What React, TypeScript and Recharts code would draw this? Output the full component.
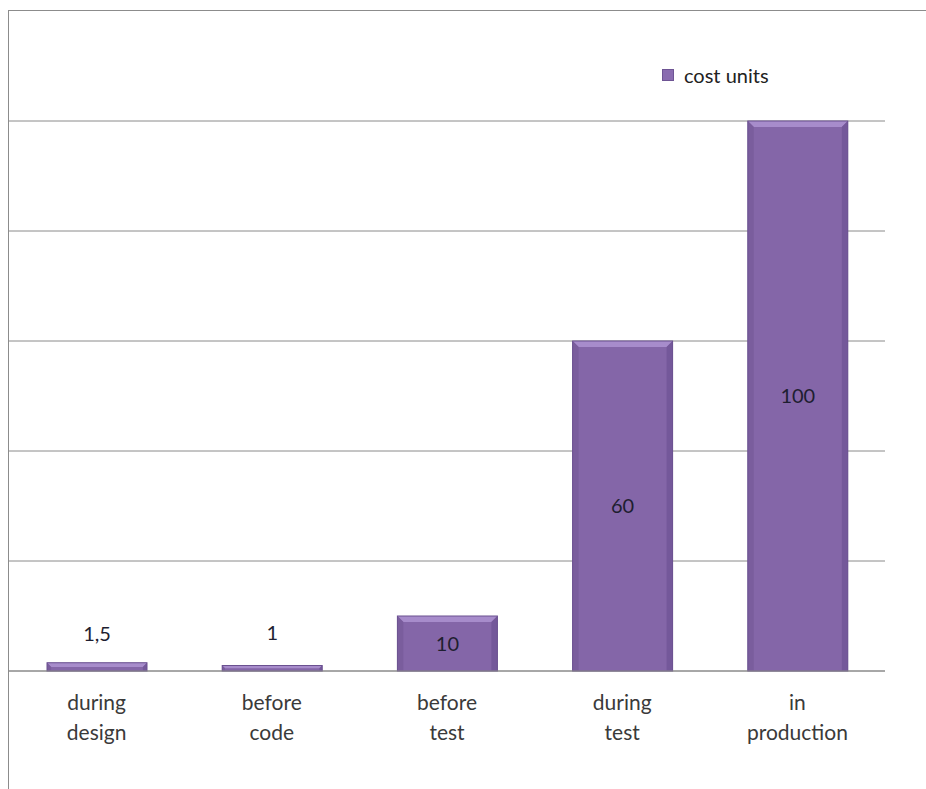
import { BarChart, Bar, XAxis, YAxis, CartesianGrid, LabelList } from 'recharts';

const categories = ['during design', 'before code', 'before test', 'during test', 'in production'];
const costUnits = [1.5, 1, 10, 60, 100];
const valueLabels = ['1,5', '1', '10', '60', '100'];
const yTicks = [0, 20, 40, 60, 80, 100];
const seriesName = 'cost units';

const data = categories.map((name, i) => ({ name, cost: costUnits[i], label: valueLabels[i] }));

const FONT = 'Lato, "Open Sans", sans-serif';

// bar with a bevelled top like the office chart style
const BevelBar = (props: any) => {
  const { x, y, width, height } = props;
  if (!height || height <= 0) return null;
  const b = Math.min(6, height / 2);
  return (
    <g>
      <rect x={x} y={y} width={width} height={height} fill="#8466a8" />
      <polygon
        points={`${x},${y} ${x + width},${y} ${x + width - b},${y + b} ${x + b},${y + b}`}
        fill="#a78ccb"
      />
      <polygon
        points={`${x},${y} ${x + b},${y + b} ${x + b},${y + height} ${x},${y + height}`}
        fill="#7a5d9d"
      />
      <polygon
        points={`${x + width},${y} ${x + width - b},${y + b} ${x + width - b},${y + height} ${x + width},${y + height}`}
        fill="#74589a"
      />
      <rect x={x} y={y} width={width} height={height} fill="none" stroke="#6a5090" strokeWidth={1} />
    </g>
  );
};

const CategoryTick = (props: any) => {
  const { x, y, payload } = props;
  const words = String(payload.value).split(' ');
  return (
    <text x={x} y={y} textAnchor="middle" fill="#3a3a3a" fontFamily={FONT} fontSize={21}>
      {words.map((w, i) => (
        <tspan key={i} x={x} dy={i === 0 ? 31 : 30}>
          {w}
        </tspan>
      ))}
    </text>
  );
};

const ValueLabel = (props: any) => {
  const { x, y, width, height, value } = props;
  const cx = x + width / 2;
  // small bars get their label above, the rest centred inside
  const cy = height > 20 ? y + height / 2 + 7 : y - 22 - (height < 6 ? 4 : 0);
  return (
    <text x={cx} y={cy} textAnchor="middle" fill="#1e1e30" fontFamily={FONT} fontSize={20}>
      {value}
    </text>
  );
};

export default function App() {
  return (
    <div style={{ position: 'absolute', left: 0, top: 0, width: 926, height: 789, background: '#fff', overflow: 'hidden' }}>
      <div
        style={{
          position: 'absolute',
          left: 8,
          top: 10,
          width: 930,
          height: 800,
          borderTop: '1px solid #8c8c8c',
          borderLeft: '1px solid #8c8c8c',
        }}
      />
      <div
        style={{
          position: 'absolute',
          left: 662,
          top: 63,
          display: 'flex',
          alignItems: 'center',
          fontFamily: FONT,
          fontSize: 20,
          color: '#222',
        }}
      >
        <span
          style={{
            display: 'inline-block',
            width: 10,
            height: 10,
            background: '#8a6cb0',
            border: '1px solid #6e5494',
            marginRight: 10,
          }}
        />
        {seriesName}
      </div>
      <div style={{ position: 'absolute', left: 0, top: 0 }}>
        <BarChart width={926} height={789} data={data} margin={{ top: 121, right: 41, bottom: 0, left: 9 }}>
          <CartesianGrid vertical={false} stroke="#8a8a8a" strokeWidth={1} />
          <YAxis hide domain={[0, 100]} ticks={yTicks} />
          <XAxis
            dataKey="name"
            axisLine={{ stroke: '#8a8a8a' }}
            tickLine={false}
            interval={0}
            tick={<CategoryTick />}
            height={118}
          />
          <Bar dataKey="cost" name={seriesName} barSize={100} shape={<BevelBar />} isAnimationActive={false}>
            <LabelList dataKey="label" content={<ValueLabel />} />
          </Bar>
        </BarChart>
      </div>
    </div>
  );
}
